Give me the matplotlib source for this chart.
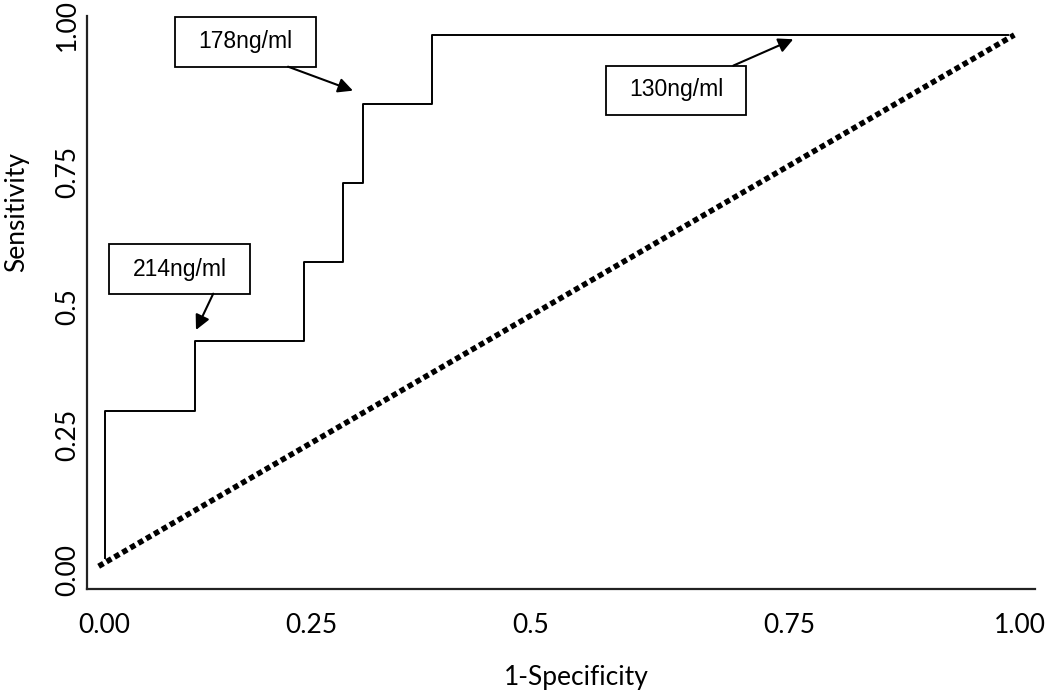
import matplotlib
matplotlib.use("Agg")
import matplotlib.pyplot as plt
from matplotlib.patches import Rectangle

# ---- data ----
fpr = [0.0, 0.0, 0.100, 0.220, 0.264, 0.286, 0.362, 1.0]
tpr = [0.005, 0.286, 0.418, 0.568, 0.719, 0.868, 1.0, 1.0]
diag_x = [-0.007, 1.007]
diag_y = [-0.010, 1.000]

x_tick_labels = ["0.00", "0.25", "0.5", "0.75", "1.00"]
y_tick_labels = ["0.00", "0.25", "0.5", "0.75", "1.00"]
cutoff_labels = ["214ng/ml", "178ng/ml", "130ng/ml"]

# ---- layout ----
W, H, DPI = 1050, 695, 100
x_tick_pos = [-0.001, 0.228, 0.471, 0.758, 1.013]
y_tick_pos = [-0.017, 0.240, 0.483, 0.740, 1.019]

# annotation layout: box (x0, x1, y0, y1), text center, arrow start, arrow tip (data coords)
boxes = [(0.0048, 0.1606, 0.5082, 0.6021), (0.0775, 0.2333, 0.9397, 1.0337), (0.5545, 0.7095, 0.8479, 0.9417)]
text_xy = [(0.0831, 0.5546), (0.155, 0.987), (0.6331, 0.8954)]
arrow_from = [(0.1199, 0.5082), (0.2027, 0.9397), (0.6958, 0.9417)]
arrow_to = [(0.1008, 0.4392), (0.2746, 0.8941), (0.7622, 0.9918)]

fig = plt.figure(figsize=(W / DPI, H / DPI), dpi=DPI)
ax = fig.add_axes([87 / W, (H - 589) / H, 948 / W, 573 / H])
ax.set_xlim(-0.0199, 1.0299)
ax.set_ylim(-0.0532, 1.036)

ax.plot(diag_x, diag_y, color="black", linewidth=4.0, linestyle=(0, (1, 0.65)),
        dash_capstyle="butt", solid_capstyle="butt")
ax.plot(fpr, tpr, color="black", linewidth=1.4, drawstyle="steps-post")

for (x0, x1, y0, y1), txy, a0, a1, lab in zip(boxes, text_xy, arrow_from, arrow_to, cutoff_labels):
    ax.add_patch(Rectangle((x0, y0), x1 - x0, y1 - y0, facecolor="white",
                           edgecolor="black", linewidth=1.3, clip_on=False, zorder=5))
    ax.text(txy[0], txy[1], lab, ha="center", va="center", fontsize=16.5,
            family="Liberation Sans", zorder=6)
    ax.annotate("", xy=a1, xytext=a0,
                arrowprops=dict(arrowstyle="-|>", color="black", lw=1.5,
                                mutation_scale=22, shrinkA=0, shrinkB=0),
                zorder=6, annotation_clip=False)

for s in ["top", "right"]:
    ax.spines[s].set_visible(False)
for s in ["left", "bottom"]:
    ax.spines[s].set_linewidth(1.6)
    ax.spines[s].set_color("#222222")

ax.set_xticks(x_tick_pos)
ax.set_xticklabels(x_tick_labels, family="Lato", fontsize=19)
ax.set_yticks(y_tick_pos)
ax.set_yticklabels(y_tick_labels, family="Lato", fontsize=19, rotation=90, va="center")
ax.tick_params(axis="x", length=0, pad=17)
ax.tick_params(axis="y", length=0, pad=5)

fig.text(576 / W, 1 - 677 / H, "1-Specificity", family="Lato", fontsize=19,
         ha="center", va="center")
fig.text(17 / W, 1 - 212 / H, "Sensitivity", family="Lato", fontsize=19,
         ha="center", va="center", rotation=90)

fig.savefig("out.png", dpi=DPI)
